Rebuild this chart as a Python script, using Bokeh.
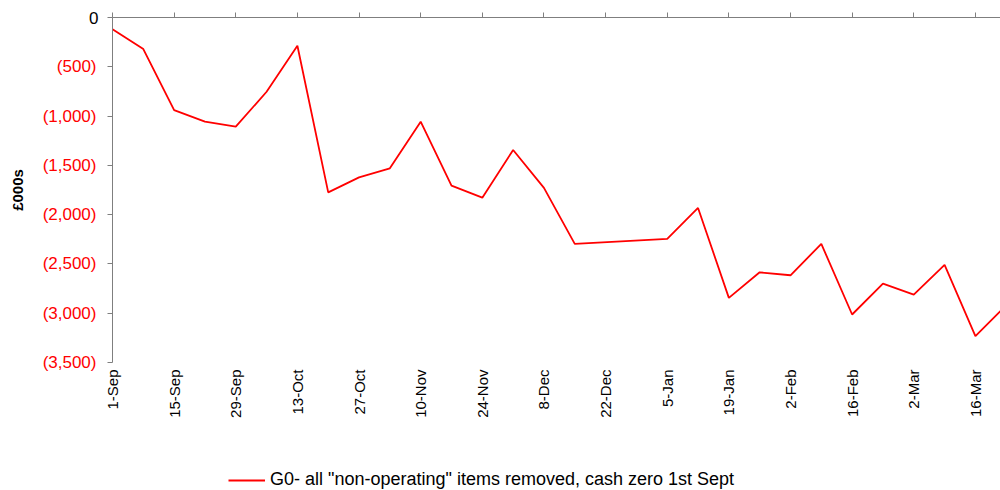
import pandas as pd
from bokeh.plotting import figure
from bokeh.layouts import column
from bokeh.models import Range1d, FixedTicker, LinearAxis, Legend, LegendItem
from bokeh.embed import file_html
from bokeh.resources import INLINE

# ---- data ----
dates = ["2008-09-01", "2008-09-08", "2008-09-15", "2008-09-22", "2008-09-29",
         "2008-10-06", "2008-10-13", "2008-10-20", "2008-10-27", "2008-11-03",
         "2008-11-10", "2008-11-17", "2008-11-24", "2008-12-01", "2008-12-08",
         "2008-12-15", "2009-01-05", "2009-01-12", "2009-01-19", "2009-01-26",
         "2009-02-02", "2009-02-09", "2009-02-16", "2009-02-23", "2009-03-02",
         "2009-03-09", "2009-03-16", "2009-03-23"]
values = [-118, -320, -939, -1057, -1108, -753, -287, -1774, -1622, -1530,
          -1057, -1706, -1828, -1344, -1729, -2297, -2246, -1932, -2844, -2585,
          -2615, -2297, -3013, -2699, -2811, -2510, -3233, -2920]
tick_dates = ["2008-09-01", "2008-09-15", "2008-09-29", "2008-10-13", "2008-10-27",
              "2008-11-10", "2008-11-24", "2008-12-08", "2008-12-22", "2009-01-05",
              "2009-01-19", "2009-02-02", "2009-02-16", "2009-03-02", "2009-03-16"]
tick_labels = ["1-Sep", "15-Sep", "29-Sep", "13-Oct", "27-Oct", "10-Nov", "24-Nov",
               "8-Dec", "22-Dec", "5-Jan", "19-Jan", "2-Feb", "16-Feb", "2-Mar", "16-Mar"]
y_ticks = [0, -500, -1000, -1500, -2000, -2500, -3000, -3500]
y_tick_labels = ["0", "(500)", "(1,000)", "(1,500)", "(2,000)", "(2,500)", "(3,000)", "(3,500)"]
series_name = 'G0- all "non-operating" items removed, cash zero 1st Sept'
y_title = "£000s"

start = pd.Timestamp(dates[0])
x_days = [(pd.Timestamp(d) - start).days for d in dates]
tick_days = [(pd.Timestamp(d) - start).days for d in tick_dates]

FONT = "Liberation Sans"
AXIS_GRAY = "#7f7f7f"
RED = "#ff0000"

p = figure(width=1000, height=430,
           x_range=Range1d(0, 201.7), y_range=Range1d(-3500, 0),
           output_backend="svg", toolbar_location=None,
           min_border_left=112, min_border_top=17, min_border_right=0, min_border_bottom=68,
           background_fill_color="white", border_fill_color="white")
p.outline_line_color = None
p.grid.visible = False

p.line(x_days, values, line_color=RED, line_width=1.8)

# bottom axis: labels only
xa = p.xaxis[0]
xa.ticker = FixedTicker(ticks=tick_days)
xa.major_label_overrides = {d: lab for d, lab in zip(tick_days, tick_labels)}
xa.major_label_orientation = 3.14159265 / 2
xa.axis_line_color = None
xa.major_tick_line_color = None
xa.major_tick_out = 0
xa.minor_tick_line_color = None
xa.major_label_standoff = 7
xa.major_label_text_font = FONT
xa.major_label_text_font_size = "15px"
xa.major_label_text_color = "black"

# top axis at zero: line + outward ticks
top = LinearAxis(ticker=FixedTicker(ticks=tick_days))
top.major_label_overrides = {d: "" for d in tick_days}
top.major_label_text_font_size = "1px"
top.major_label_standoff = 0
top.axis_line_color = AXIS_GRAY
top.major_tick_line_color = AXIS_GRAY
top.major_tick_out = 5
top.major_tick_in = 0
top.minor_tick_line_color = None
p.add_layout(top, "above")

# left axis (closest to frame): line, ticks and the black "0"
ya = p.yaxis[0]
ya.ticker = FixedTicker(ticks=y_ticks)
ya.major_label_overrides = {t: (lab if t == 0 else "") for t, lab in zip(y_ticks, y_tick_labels)}
ya.major_label_text_color = "black"
ya.major_label_text_font = FONT
ya.major_label_text_font_size = "17px"
ya.major_label_standoff = 9
ya.major_tick_out = 5
ya.major_tick_in = 0
ya.axis_line_color = AXIS_GRAY
ya.major_tick_line_color = AXIS_GRAY
ya.minor_tick_line_color = None

# second left axis: red bracketed negatives and the title
ya2 = LinearAxis(ticker=FixedTicker(ticks=y_ticks))
ya2.major_label_overrides = {t: ("" if t == 0 else lab) for t, lab in zip(y_ticks, y_tick_labels)}
ya2.major_label_text_color = RED
ya2.major_label_text_font = FONT
ya2.major_label_text_font_size = "17px"
ya2.major_label_standoff = -10
ya2.major_tick_out = 0
ya2.major_tick_in = 0
ya2.axis_line_color = None
ya2.major_tick_line_color = None
ya2.minor_tick_line_color = None
ya2.axis_label = y_title
ya2.axis_label_text_font = FONT
ya2.axis_label_text_font_style = "bold"
ya2.axis_label_text_font_size = "15px"
ya2.axis_label_standoff = 14
ya2.axis_label_text_color = "black"
p.add_layout(ya2, "left")

# legend strip below the chart
p2 = figure(width=1000, height=60, x_range=Range1d(0, 1), y_range=Range1d(0, 1),
            x_axis_type=None, y_axis_type=None,
            output_backend="svg", toolbar_location=None,
            min_border_left=0, min_border_right=0, min_border_top=0, min_border_bottom=0,
            background_fill_color="white", border_fill_color="white")
p2.outline_line_color = None
p2.grid.visible = False
leg_line = p2.line(x_days, values, line_color=RED, line_width=1.8)

legend = Legend(items=[LegendItem(label=series_name, renderers=[leg_line])],
                location=(116, 0), orientation="horizontal",
                border_line_color=None, background_fill_alpha=0,
                padding=0, margin=0, spacing=0,
                glyph_width=37, glyph_height=20, label_standoff=5,
                label_text_font=FONT, label_text_font_size="18px",
                label_text_color="black")
p2.add_layout(legend, "center")

open("out.html", "w").write(file_html(column(p, p2, spacing=0), INLINE))
